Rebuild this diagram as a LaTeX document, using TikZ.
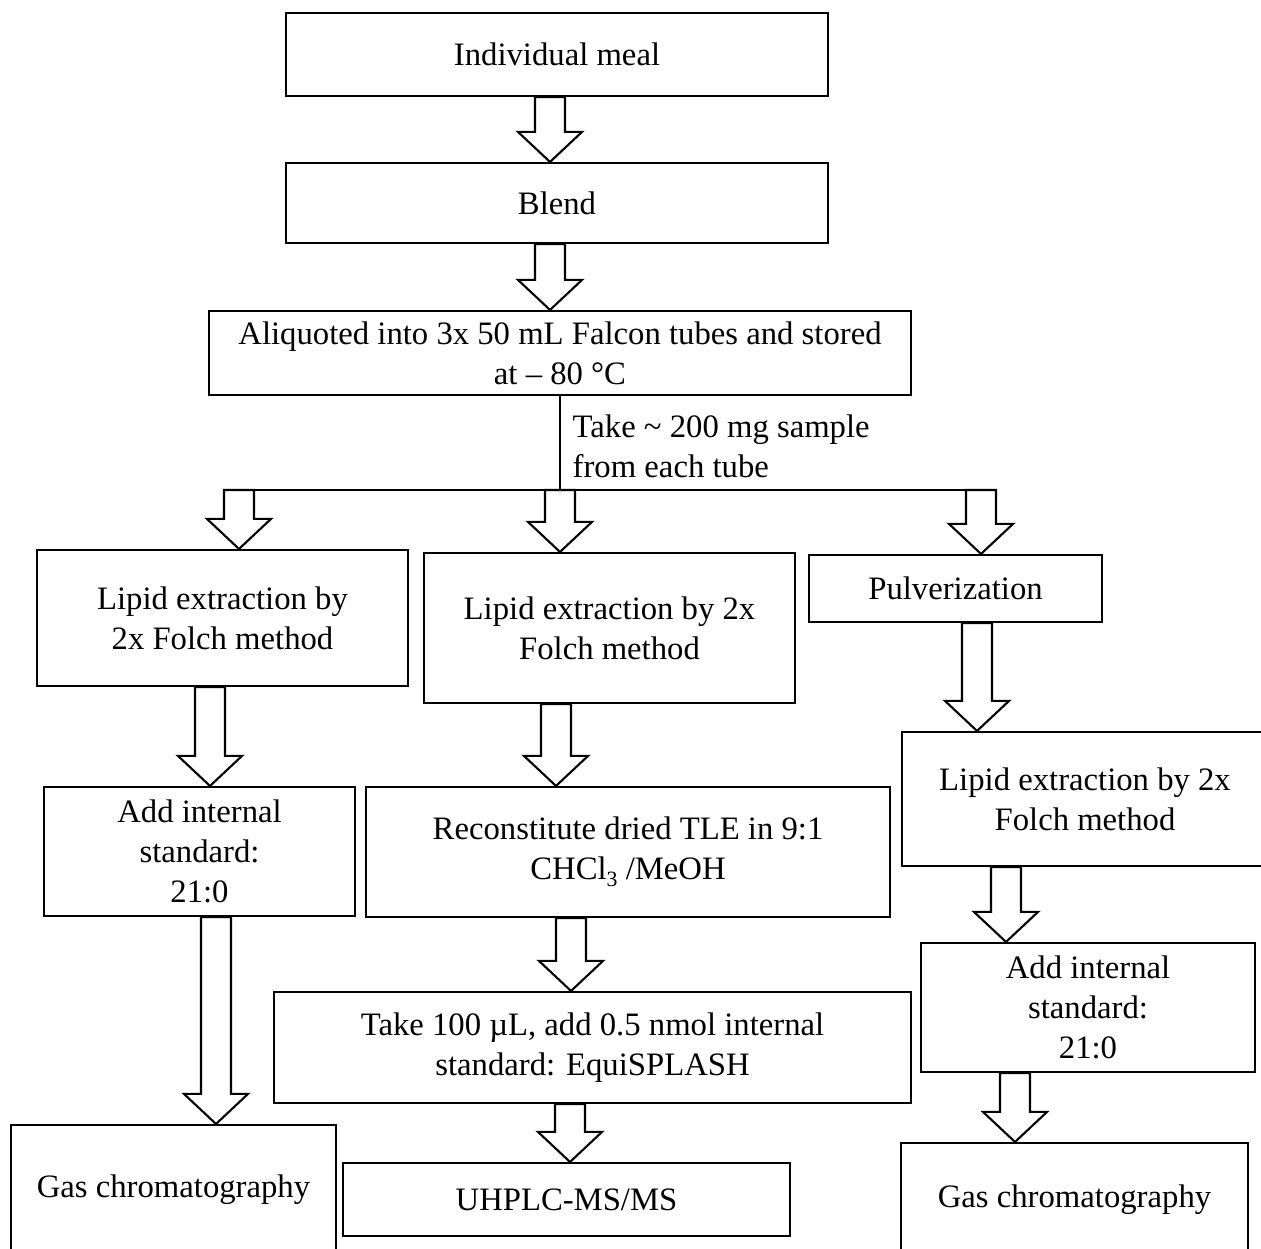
\documentclass[tikz,border=0pt]{standalone}
\usepackage{fontspec}
\setmainfont{Liberation Serif}
\usetikzlibrary{calc}
\tikzset{
  box/.style={draw, line width=0.6pt, inner sep=0pt, align=center},
  sz/.style 2 args={minimum width=#1*0.01cm, minimum height=#2*0.01cm},
  barrow/.style={draw, fill=white, line width=0.6pt, line join=miter},
  conn/.style={draw, line width=0.6pt},
}
\newcommand{\blockarrow}[3]{%
  \draw[barrow] let \p1=#2, \p2=#3, \p3=(#1,0) in
    (\x3-4.27pt,\y1) -- (\x3+4.27pt,\y1) -- (\x3+4.27pt,\y2+8.54pt) --
    (\x3+9.1pt,\y2+8.54pt) -- (\x3,\y2) -- (\x3-9.1pt,\y2+8.54pt) --
    (\x3-4.27pt,\y2+8.54pt) -- cycle;}
\newcommand{\lowsub}[1]{\raisebox{-0.45ex}{\fontsize{6.2pt}{6.2pt}\selectfont #1}}
\begin{document}
\begin{tikzpicture}[x=0.01cm, y=-0.01cm,
  every node/.append style={font=\fontsize{9.3pt}{11.4pt}\selectfont}]
\useasboundingbox (0,0) rectangle (1261,1249);
\clip (0,0) rectangle (1261,1249);

\node[box, sz={542}{83}] (meal) at (557,54.5) {Individual meal};
\node[box, sz={542}{80}] (blend) at (557,203) {Blend};
\node[box, sz={702}{84}] (ali) at (560,353) {Aliquoted into 3x 50 mL Falcon tubes and stored\\at -- 80 °C};

\coordinate (jC) at (560,490);
\coordinate (jL) at (224,490);
\coordinate (jR) at (996,490);
\draw[conn] (ali.south) -- (jC);
\draw[conn] (jL) -- (jR);
\node[anchor=west, align=left, inner sep=0pt] (takelbl) at (572,446) {Take \textasciitilde{} 200 mg sample\\from each tube};

\node[box, sz={371}{136}] (lipL) at (222.5,618) {Lipid extraction by\\2x Folch method};
\node[box, sz={371}{150}] (lipM) at (609.5,628) {Lipid extraction by 2x\\Folch method};
\node[box, sz={293}{67}] (pulv) at (955.5,588.5) {Pulverization};

\node[box, sz={311}{129}] (addL) at (199.5,851.5) {Add internal\\standard:\\21:0};
\node[box, sz={524}{130}] (recon) at (628,852) {Reconstitute dried TLE in 9:1\\CHCl\lowsub{3} /MeOH};
\node[box, sz={366}{134}] (lipR) at (1085,799) {Lipid extraction by 2x\\Folch method};

\node[box, sz={637}{111}] (take100) at (592.5,1047.5) {Take 100 µL, add 0.5 nmol internal\\standard: EquiSPLASH};
\node[box, sz={334}{129}] (addR) at (1088,1007.5) {Add internal\\standard:\\21:0};

\node[box, sz={325}{130}] (gcL) at (173.5,1190) {Gas chromatography};
\node[box, sz={447}{73}] (uhplc) at (566.5,1199.5) {UHPLC-MS/MS};
\node[box, sz={347}{114}] (gcR) at (1074.5,1200) {Gas chromatography};

\blockarrow{550}{(meal.south)}{(blend.north)}
\blockarrow{550}{(blend.south)}{(ali.north)}
\blockarrow{239}{(jC)}{(lipL.north)}
\blockarrow{560}{(jC)}{(lipM.north)}
\blockarrow{981}{(jC)}{(pulv.north)}
\blockarrow{210}{(lipL.south)}{(addL.north)}
\blockarrow{556}{(lipM.south)}{(recon.north)}
\blockarrow{977}{(pulv.south)}{(lipR.north)}
\blockarrow{216}{(addL.south)}{(gcL.north)}
\blockarrow{571}{(recon.south)}{(take100.north)}
\blockarrow{1006}{(lipR.south)}{(addR.north)}
\blockarrow{570}{(take100.south)}{(uhplc.north)}
\blockarrow{1015}{(addR.south)}{(gcR.north)}
\end{tikzpicture}
\end{document}
